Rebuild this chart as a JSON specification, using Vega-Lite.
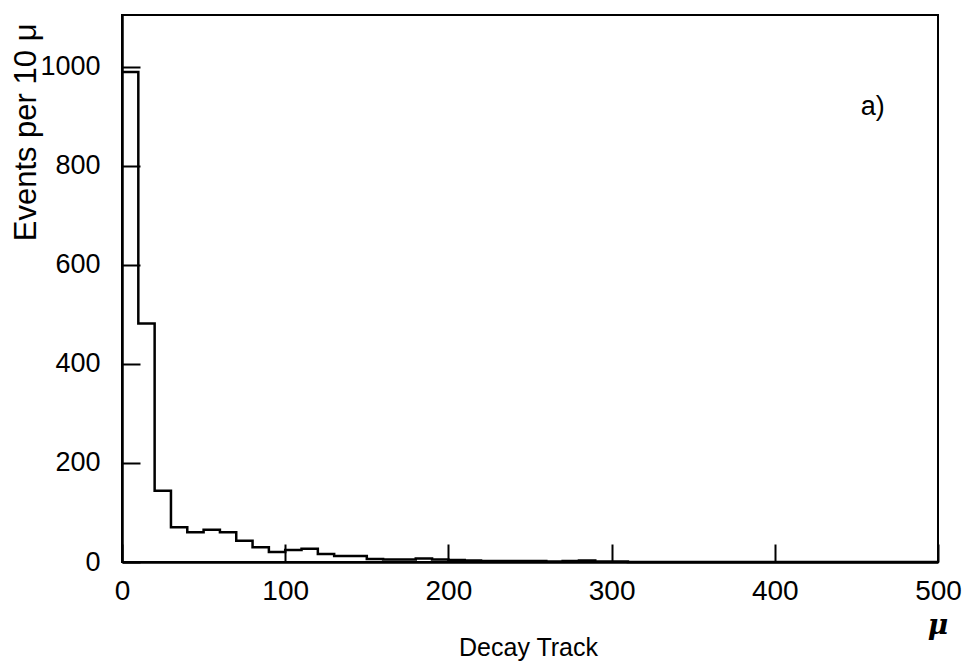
{
  "$schema": "https://vega.github.io/schema/vega-lite/v6.json",
  "autosize": {"type": "none"},
  "padding": {"left": 122, "top": 15, "right": 31, "bottom": 102},
  "width": 816,
  "height": 547,
  "background": "white",
  "config": {
    "view": {"stroke": "black", "strokeWidth": 2},
    "font": "Liberation Sans",
    "axis": {
      "grid": false,
      "domainColor": "black",
      "domainWidth": 2.5,
      "tickColor": "black",
      "tickWidth": 2,
      "tickSize": -18,
      "labelColor": "black",
      "labelFont": "Liberation Sans",
      "labelFontSize": 27,
      "labelFlush": false,
      "labelOverlap": false,
      "titleColor": "black",
      "titleFont": "Liberation Sans",
      "titleFontWeight": "normal"
    }
  },
  "layer": [
    {
      "data": {
        "values": [
          {"x": 0, "n": 990}, {"x": 10, "n": 482}, {"x": 20, "n": 144}, {"x": 30, "n": 70},
          {"x": 40, "n": 60}, {"x": 50, "n": 65}, {"x": 60, "n": 60}, {"x": 70, "n": 43},
          {"x": 80, "n": 30}, {"x": 90, "n": 20}, {"x": 100, "n": 24}, {"x": 110, "n": 27},
          {"x": 120, "n": 16}, {"x": 130, "n": 12}, {"x": 140, "n": 12}, {"x": 150, "n": 6},
          {"x": 160, "n": 5}, {"x": 170, "n": 5}, {"x": 180, "n": 7}, {"x": 190, "n": 5},
          {"x": 200, "n": 4}, {"x": 210, "n": 3}, {"x": 220, "n": 2}, {"x": 230, "n": 2},
          {"x": 240, "n": 2}, {"x": 250, "n": 2}, {"x": 260, "n": 1}, {"x": 270, "n": 2},
          {"x": 280, "n": 3}, {"x": 290, "n": 1}, {"x": 300, "n": 1}, {"x": 310, "n": 0},
          {"x": 500, "n": 0}
        ]
      },
      "mark": {"type": "line", "interpolate": "step-after", "color": "black", "strokeWidth": 2.5},
      "encoding": {
        "x": {
          "field": "x", "type": "quantitative",
          "scale": {"domain": [0, 500], "nice": false, "zero": false},
          "axis": {
            "values": [0, 100, 200, 300, 400, 500],
            "format": "d",
            "labelPadding": 33,
            "labelBaseline": "top",
            "labelFontSize": 28,
            "title": "Decay Track",
            "titleFontSize": 25,
            "titleX": 406,
            "titleY": 93,
            "titleBaseline": "alphabetic",
            "titleAnchor": null
          }
        },
        "y": {
          "field": "n", "type": "quantitative",
          "scale": {"domain": [0, 1105], "nice": false},
          "axis": {
            "values": [0, 200, 400, 600, 800, 1000],
            "format": "d",
            "labelPadding": 40,
            "title": "Events per 10 μ",
            "titleFontSize": 31,
            "titleAngle": -90,
            "titleAlign": "right",
            "titleBaseline": "alphabetic",
            "titleX": -87,
            "titleY": 8
          }
        }
      }
    },
    {
      "data": {"values": [{"label": "a)"}]},
      "mark": {"type": "text", "fontSize": 27, "font": "Liberation Sans", "color": "black"},
      "encoding": {"x": {"datum": 460}, "y": {"datum": 920}, "text": {"field": "label"}}
    },
    {
      "data": {"values": [{"label": "μ"}]},
      "mark": {"type": "text", "fontSize": 28, "fontStyle": "italic", "fontWeight": "bold", "font": "DejaVu Serif", "color": "black", "dy": 64},
      "encoding": {"x": {"datum": 500}, "y": {"datum": 0}, "text": {"field": "label"}}
    }
  ]
}
